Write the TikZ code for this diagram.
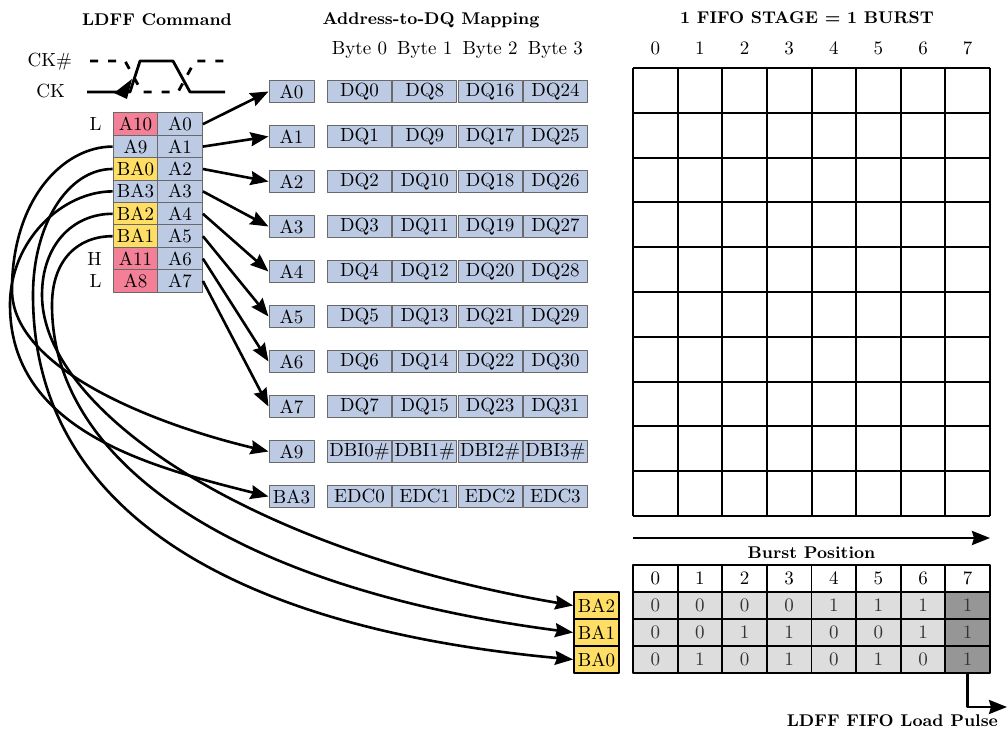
\documentclass[tikz,border=0pt]{standalone}
\usetikzlibrary{arrows.meta}

\definecolor{addrblue}{RGB}{188,202,228}
\definecolor{cmdpink}{RGB}{243,128,150}
\definecolor{bayellow}{RGB}{254,222,100}
\definecolor{celllight}{RGB}{221,221,221}
\definecolor{celldark}{RGB}{150,150,150}
\definecolor{boxedge}{RGB}{105,105,105}

\begin{document}
\begin{tikzpicture}[
  x=0.5pt, y=-0.5pt,
  >={Stealth[length=9pt,width=7pt,inset=1pt]},
  line join=round,
  every node/.style={font=\fontsize{9.5}{11}\selectfont},
  title/.style={font=\fontsize{8.5}{10}\selectfont\bfseries},
  cmdcell/.style={draw=boxedge, line width=0.5pt, inner sep=0pt,
    minimum width=22.4pt, minimum height=11.2pt},
  addrbox/.style={cmdcell, fill=addrblue, minimum width=22.5pt, minimum height=11pt},
  dqbox/.style={addrbox, minimum width=32pt},
  bitcell/.style={draw=black, line width=0.9pt, inner sep=0pt,
    minimum width=22.3pt, minimum height=13.5pt},
  babox/.style={bitcell, fill=bayellow, minimum width=22.5pt},
  link/.style={line width=1.3pt},
  wave/.style={line width=1.4pt}
]
  \useasboundingbox (0,0) rectangle (1008,731);

  % Headings
  \node[title] (tCmd)   at (157,20)   {LDFF Command};
  \node[title] (tMap)   at (431,20)   {Address-to-DQ Mapping};
  \node[title] (tStage) at (807,18)   {1 FIFO STAGE = 1 BURST};
  \foreach \j in {0,...,3}
    \node (byte\j) at ({359.5+65.3*\j},50) {Byte \j};

  % Clock pair
  \node[anchor=east] (tCKn) at (79,62) {CK\#};
  \node[anchor=east] (tCK)  at (72,91) {CK};
  \draw[wave, dash pattern=on 4pt off 5pt]
    (90,61) -- (125,61) -- (142,92) -- (178,92) -- (195,61) -- (228,61);
  \draw[wave] (87,92) -- (130,92) -- (140,61) -- (173,61) -- (190,92) -- (225,92);
  \fill (114,93) -- (132,79) -- (127,99) -- cycle;

  % LDFF command address bus
  \foreach \lab/\col [count=\i from 0] in
      {A10/cmdpink, A9/addrblue, BA0/bayellow, BA3/addrblue,
       BA2/bayellow, BA1/bayellow, A11/cmdpink, A8/cmdpink}{
    \node[cmdcell, fill=\col] (c\lab) at (135.5,{124.2+22.4*\i}) {\lab};
    \node[cmdcell, fill=addrblue] (cA\i) at (180,{124.2+22.4*\i}) {A\i};
  }
  \node[left=2pt] (lvA10) at (cA10.west) {L};
  \node[left=2pt] (lvA11) at (cA11.west) {H};
  \node[left=2pt] (lvA8)  at (cA8.west)  {L};

  % Address-to-DQ mapping
  \foreach \lab/\i in {A0/0,A1/1,A2/2,A3/3,A4/4,A5/5,A6/6,A7/7,A9/8,BA3/9}
    \node[addrbox] (b\lab) at (291.5,{91.5+45*\i}) {\lab};
  \foreach \i in {0,...,7}
    \foreach \j in {0,...,3}{
      \pgfmathtruncatemacro\q{\i+8*\j}
      \node[dqbox] (dq\i_\j) at ({359.5+65.3*\j},{91.5+45*\i}) {DQ\q};
    }
  \foreach \j in {0,...,3}{
    \node[dqbox] (dbi\j) at ({359.5+65.3*\j},451.5) {DBI\j\#};
    \node[dqbox] (edc\j) at ({359.5+65.3*\j},496.5) {EDC\j};
  }

  % Straight wires A0..A7
  \foreach \i in {0,...,7}
    \draw[link,->] (cA\i.east) -- (bA\i.west);

  % FIFO burst table (lower right)
  \foreach \k in {0,...,7}
    \node[bitcell, fill=white] (h\k) at ({633+44.625*(\k+0.5)},578.5) {\k};
  \foreach \r/\p/\ry in {2/4/605.5, 1/2/632.5, 0/1/659.5}{
    \node[babox] (fBA\r) at (596.5,\ry) {BA\r};
    \foreach \k in {0,...,7}{
      \pgfmathtruncatemacro\bit{mod(floor(\k/\p),2)}
      \ifnum\k=7 \def\cf{celldark}\else \def\cf{celllight}\fi
      \node[bitcell, fill=\cf, text=black!80] (s\r_\k)
        at ({633+44.625*(\k+0.5)},\ry) {\bit};
    }
  }

  % Curved wires to A9, BA3 and the FIFO select inputs
  \coordinate (wA9)  at (12,290);
  \coordinate (wBA3) at (10,305);
  \coordinate (wBA0) at (33,295);
  \coordinate (wBA2) at (42,295);
  \coordinate (wBA1) at (52,305);
  \draw[link,->] (cA9.west) .. controls +(-50,0) and +(0,-90) .. (wA9)
    .. controls +(0,80) and +(-110,-26) .. (bA9.west);
  \draw[link,->] (cBA3.west) .. controls +(-50,0) and +(0,-65) .. (wBA3)
    .. controls +(0,125) and +(-120,-30) .. (bBA3.west);
  \draw[link,->] (cBA0.west) .. controls +(-45,0) and +(0,-70) .. (wBA0)
    .. controls +(0,225) and +(-324,-30) .. (fBA0.west);
  \draw[link,->] (cBA2.west) .. controls +(-40,0) and +(0,-50) .. (wBA2)
    .. controls +(0,115) and +(-324,-55) .. (fBA2.west);
  \draw[link,->] (cBA1.west) .. controls +(-35,0) and +(0,-45) .. (wBA1)
    .. controls +(0,165) and +(-324,-42) .. (fBA1.west);

  % FIFO stage grid (8 bursts x 10 rows)
  \foreach \k in {0,...,7}
    \node (col\k) at ({633+44.625*(\k+0.5)},48) {\k};
  \foreach \k in {0,...,8}
    \draw[line width=1pt] ({633+44.625*\k},68) -- ({633+44.625*\k},516);
  \foreach \r in {0,...,10}
    \draw[line width=1pt] (633,{68+44.8*\r}) -- (990,{68+44.8*\r});

  % Burst direction
  \coordinate (burstL) at (633,538);
  \coordinate (burstR) at (990,538);
  \draw[link,->] (burstL) -- (burstR);
  \node[title] (tBurst) at (811.5,553) {Burst Position};

  % Load pulse out of the last burst position
  \coordinate (pulseEnd) at (1007,707);
  \draw[link,->] (s0_7.south) |- (pulseEnd);
  \node[title, anchor=east] (tPulse) at (1005,721) {LDFF FIFO Load Pulse};
\end{tikzpicture}
\end{document}
